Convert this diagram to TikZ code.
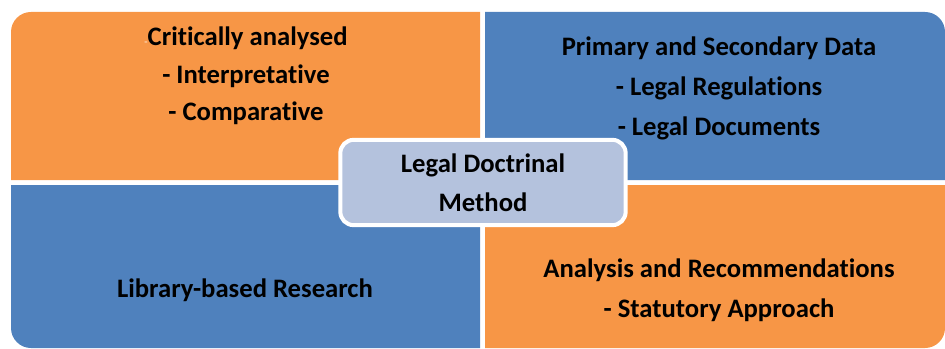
\documentclass[tikz,border=0pt]{standalone}
\usepackage{fontspec}
\setmainfont[Ligatures={NoCommon}]{Carlito}
\usepackage{tikz}
\tikzset{every picture/.style={line width=0.75pt}}

\definecolor{quadorange}{RGB}{247,150,70}
\definecolor{quadblue}{RGB}{79,129,189}
\definecolor{hubblue}{RGB}{180,194,221}

\tikzset{
  quadtext/.style={align=center, inner sep=0.75pt, font=\bfseries\fontsize{20}{30}\selectfont},
  hubbox/.style={draw=white, line width=3pt, fill=hubblue, rounded corners=10pt,
    minimum width=214pt, minimum height=64pt, align=center, inner sep=0.75pt,
    font=\bfseries\fontsize{20}{29}\selectfont}
}

\begin{document}
\begin{tikzpicture}[x=0.75pt,y=0.75pt,yscale=-1,xscale=1]
\useasboundingbox (0,0) rectangle (945,349);

%Top left quadrant
\fill [quadorange] (11,180) -- (11,32) arc (180:270:20) -- (480,12) -- (480,180) -- cycle;
%Top right quadrant
\fill [quadblue] (485,12) -- (925,12) arc (270:360:20) -- (945,180) -- (485,180) -- cycle;
%Bottom left quadrant
\fill [quadblue] (11,185) -- (480,185) -- (480,348) -- (31,348) arc (90:180:20) -- cycle;
%Bottom right quadrant
\fill [quadorange] (485,185) -- (945,185) -- (945,328) arc (0:90:20) -- (925,348) -- (485,348) -- cycle;

% Text Node
\node [quadtext, font=\bfseries\fontsize{20}{28}\selectfont] (critical) at (246,76)
  {{\color{white!60!quadorange}\fontsize{8}{8}\selectfont -}Critically analysed\\- Interpretative\\- Comparative};
% Text Node
\node [quadtext] (sources) at (719,88)
  {Primary and Secondary Data\\- Legal Regulations\\- Legal Documents};
% Text Node
\node [quadtext] (library) at (245,290) {Library-based Research};
% Text Node
\node [quadtext] (analysis) at (719,290)
  {Analysis and Recommendations\\- Statutory Approach};

% Centre box
\node [hubbox] (method) at (483,182.5) {Legal Doctrinal\\Method};
\end{tikzpicture}
\end{document}
